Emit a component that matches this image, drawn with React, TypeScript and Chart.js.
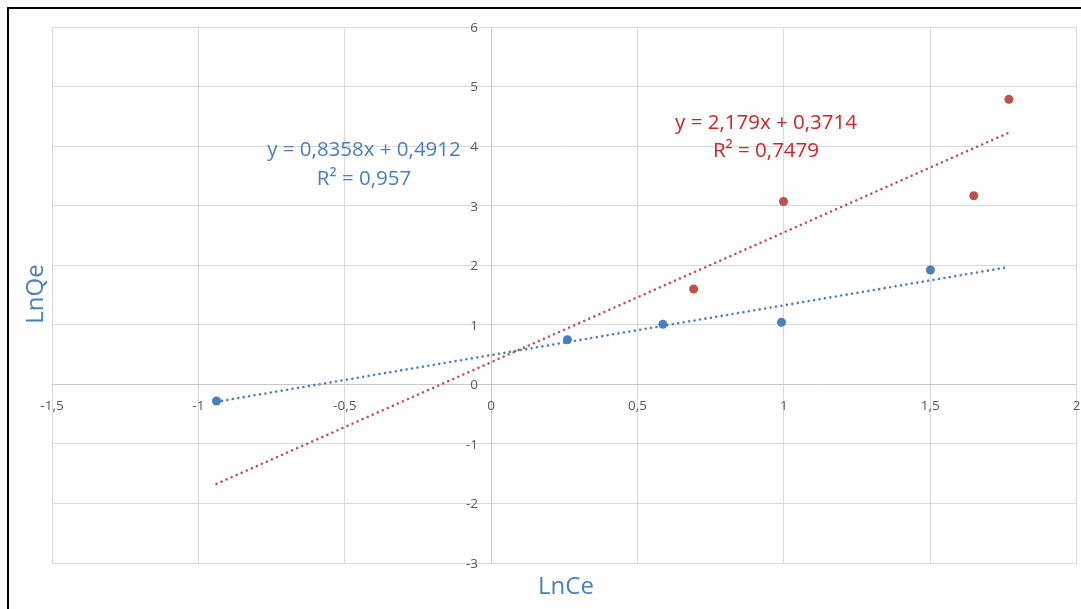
import { useEffect, useRef } from "react";
import { Chart, registerables } from "chart.js";

Chart.register(...registerables);

// Series 1 (blue) observations
const blueX = [-0.938, 0.261, 0.587, 0.992, 1.501];
const blueY = [-0.28, 0.749, 1.007, 1.041, 1.919];

// Series 2 (red) observations
const redX = [0.692, 0.999, 1.649, 1.769];
const redY = [1.6, 3.07, 3.167, 4.785];

// Linear trendlines as stated by their equations
const blueSlope = 0.8358;
const blueIntercept = 0.4912;
const redSlope = 2.179;
const redIntercept = 0.3714;
const trendRange = [-0.938, 1.769];

const blueEquation = ["y = 0,8358x + 0,4912", "R² = 0,957"];
const redEquation = ["y = 2,179x + 0,3714", "R² = 0,7479"];

// Axis ticks
const xTicks = [-1.5, -1, -0.5, 0, 0.5, 1, 1.5, 2];
const yTicks = [-3, -2, -1, 0, 1, 2, 3, 4, 5, 6];

const xTitle = "LnCe";
const yTitle = "LnQe";

const BLUE = "#4A7EBE";
const RED = "#C0504D";
const RED_TEXT = "#C8262A";
const TICK_COLOR = "#595959";
const GRID = "#D9D9D9";
const FONT = "'Open Sans', 'Noto Sans', sans-serif";

const fmt = (v: number) => String(v).replace(".", ",");

const overlayPlugin = {
  id: "overlay",
  afterDraw(chart: any) {
    const { ctx } = chart;
    const xs = chart.scales.x;
    const ys = chart.scales.y;
    const x0 = xs.getPixelForValue(0);
    const y0 = ys.getPixelForValue(0);
    ctx.save();

    // tick labels placed at the crossing axes
    ctx.fillStyle = TICK_COLOR;
    ctx.font = `13.5px ${FONT}`;
    ctx.textAlign = "right";
    ctx.textBaseline = "middle";
    yTicks.forEach((v) => {
      ctx.fillText(fmt(v), x0 - 13, ys.getPixelForValue(v) + 1);
    });
    ctx.textAlign = "center";
    xTicks.forEach((v) => {
      ctx.fillText(fmt(v), xs.getPixelForValue(v), y0 + 22);
    });

    // trendline equations
    ctx.font = `20.5px ${FONT}`;
    ctx.textBaseline = "alphabetic";
    ctx.fillStyle = BLUE;
    ctx.fillText(blueEquation[0], 364, 156);
    ctx.fillText(blueEquation[1], 364, 185);
    ctx.fillStyle = RED_TEXT;
    ctx.fillText(redEquation[0], 766, 129);
    ctx.fillText(redEquation[1], 766, 157);

    // axis titles
    ctx.fillStyle = BLUE;
    ctx.font = `24px ${FONT}`;
    ctx.fillText(xTitle, 566, 594);
    ctx.translate(43, 294);
    ctx.rotate(-Math.PI / 2);
    ctx.fillText(yTitle, 0, 0);
    ctx.restore();
  },
};

export default function App() {
  const canvasRef = useRef<HTMLCanvasElement>(null);

  useEffect(() => {
    if (!canvasRef.current) return;
    const trend = (m: number, b: number) =>
      trendRange.map((x) => ({ x, y: m * x + b }));

    const chart = new Chart(canvasRef.current, {
      type: "scatter",
      data: {
        datasets: [
          {
            type: "line",
            label: "trend-blue",
            data: trend(blueSlope, blueIntercept),
            borderColor: BLUE,
            borderWidth: 2.6,
            borderDash: [0.01, 5.5],
            borderCapStyle: "round",
            pointRadius: 0,
            fill: false,
          },
          {
            type: "line",
            label: "trend-red",
            data: trend(redSlope, redIntercept),
            borderColor: RED,
            borderWidth: 2.6,
            borderDash: [0.01, 5.5],
            borderCapStyle: "round",
            pointRadius: 0,
            fill: false,
          },
          {
            label: "blue",
            data: blueX.map((x, i) => ({ x, y: blueY[i] })),
            backgroundColor: BLUE,
            borderWidth: 0,
            pointRadius: 4.5,
          },
          {
            label: "red",
            data: redX.map((x, i) => ({ x, y: redY[i] })),
            backgroundColor: RED,
            borderWidth: 0,
            pointRadius: 4.5,
          },
        ],
      },
      options: {
        responsive: false,
        animation: false,
        devicePixelRatio: 1,
        layout: { padding: { left: 52, top: 27, right: 4, bottom: 46 } },
        plugins: {
          legend: { display: false },
          tooltip: { enabled: false },
        },
        scales: {
          x: {
            type: "linear",
            min: -1.5,
            max: 2,
            afterBuildTicks: (s: any) => {
              s.ticks = xTicks.map((value) => ({ value }));
            },
            afterFit: (s: any) => {
              s.height = 0;
            },
            ticks: { display: false },
            border: { display: false },
            grid: {
              drawTicks: false,
              color: (c: any) => (c.tick && c.tick.value === 0 ? "#C8C8C8" : GRID),
              lineWidth: 1,
            },
          },
          y: {
            type: "linear",
            min: -3,
            max: 6,
            afterBuildTicks: (s: any) => {
              s.ticks = yTicks.map((value) => ({ value }));
            },
            afterFit: (s: any) => {
              s.width = 0;
            },
            ticks: { display: false },
            border: { display: false },
            grid: {
              drawTicks: false,
              color: (c: any) => (c.tick && c.tick.value === 0 ? "#C8C8C8" : GRID),
              lineWidth: 1,
            },
          },
        },
      },
      plugins: [overlayPlugin],
    } as any);

    return () => chart.destroy();
  }, []);

  return (
    <div
      style={{
        position: "fixed",
        left: 0,
        top: 0,
        width: 1081,
        height: 609,
        background: "#fff",
        overflow: "hidden",
      }}
    >
      <canvas
        ref={canvasRef}
        width={1081}
        height={609}
        style={{ position: "absolute", left: 0, top: 0, width: 1081, height: 609 }}
      />
      <div
        style={{
          position: "absolute",
          left: 7,
          top: 7,
          width: 1200,
          height: 800,
          border: "2px solid #000",
          boxSizing: "border-box",
          pointerEvents: "none",
        }}
      />
    </div>
  );
}
